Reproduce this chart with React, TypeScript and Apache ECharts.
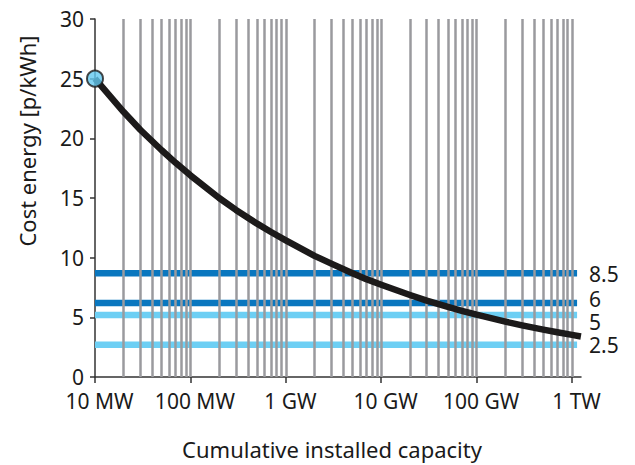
import React, { useEffect, useRef } from "react";
import * as echarts from "echarts";

// Cumulative installed capacity (W) and cost (p/kWh)
const capacity = [
  1e7, 2e7, 3e7, 5e7, 7e7,
  1e8, 2e8, 3e8, 5e8, 7e8,
  1e9, 2e9, 3e9, 5e9, 7e9,
  1e10, 2e10, 3e10, 5e10, 7e10,
  1e11, 2e11, 3e11, 5e11, 7e11,
  1e12, 1.24e12,
];
const cost = [
  25, 22.2, 20.7, 19.0, 17.95,
  16.9, 15.0, 14.0, 12.85, 12.15,
  11.45, 10.15, 9.5, 8.7, 8.2,
  7.73, 6.87, 6.4, 5.88, 5.55,
  5.22, 4.64, 4.33, 3.97, 3.75,
  3.53, 3.4,
];

// Horizontal reference levels (line position as drawn, and its label)
const levelValues = [8.7, 6.2, 5.2, 2.7];
const levelLabels = ["8.5", "6", "5", "2.5"];
const levelColors = ["#0a77bf", "#0a77bf", "#6dcff4", "#6dcff4"];
const levelLabelOffsets = [1, -4.5, 7, 0.5];
const levelStart = 1e7;
const levelEnd = 1.13e12;

// Axis ticks
const decades = [1e7, 1e8, 1e9, 1e10, 1e11, 1e12];
const tickLabels = ["10 MW", "100 MW", "1 GW", "10 GW", "100 GW", "1 TW"];
const gridMultipliers = [2, 3, 4, 5, 6, 7, 8, 9, 10];

const FONT = "'Noto Sans', sans-serif";
const TEXT = "#1a1a1a";
const FS = 21;
const FS_TITLE = 22;
const LH = 18;

export default function App() {
  const ref = useRef<HTMLDivElement>(null);
  useEffect(() => {
    document.body.style.margin = "0";
    if (!ref.current) return;
    const chart = echarts.init(ref.current, undefined, { renderer: "svg" });

    const gridX: number[] = [];
    decades.slice(0, -1).forEach((d) => gridMultipliers.forEach((m) => gridX.push(d * m)));

    const levelSeries = levelValues.map((v, i) => ({
      type: "line",
      data: [
        [levelStart, v],
        [levelEnd, v],
      ],
      symbol: "none",
      z: 3,
      lineStyle: { color: levelColors[i], width: 6.5, cap: "butt" },
      endLabel: {
        show: true,
        formatter: levelLabels[i],
        distance: 12,
        offset: [0, levelLabelOffsets[i]],
        fontFamily: FONT,
        fontSize: FS,
        lineHeight: LH,
        color: TEXT,
      },
      silent: true,
    }));

    chart.setOption({
      animation: false,
      grid: { left: 95, right: 54, top: 19, bottom: 86, containLabel: false },
      xAxis: {
        type: "log",
        logBase: 10,
        min: 1e7,
        max: 1.242e12,
        name: "Cumulative installed capacity",
        nameLocation: "middle",
        nameGap: 63,
        nameTextStyle: { fontFamily: FONT, fontSize: FS_TITLE, lineHeight: LH, color: TEXT, padding: [0, 12, 0, 0] },
        axisLine: { lineStyle: { color: "#333", width: 1.5 } },
        axisTick: { customValues: decades, length: 6, lineStyle: { color: "#333", width: 1.5 } },
        axisLabel: {
          customValues: decades,
          fontFamily: FONT,
          fontSize: FS,
          lineHeight: LH,
          color: TEXT,
          margin: 15,
          padding: [0, 0, 0, 9],
          formatter: (v: number) => {
            const idx = decades.findIndex((d) => Math.abs(Math.log10(d) - Math.log10(v)) < 1e-6);
            return idx >= 0 ? tickLabels[idx] : "";
          },
        },
        splitLine: { show: false },
        minorTick: { show: false },
        minorSplitLine: { show: false },
      },
      yAxis: {
        type: "value",
        min: 0,
        max: 30,
        interval: 5,
        axisLine: { show: true, lineStyle: { color: "#333", width: 1.5 } },
        axisTick: { show: true, length: 5, lineStyle: { color: "#333", width: 1.5 } },
        axisLabel: { fontFamily: FONT, fontSize: FS, lineHeight: LH, color: TEXT, margin: 11 },
        splitLine: { show: false },
      },
      graphic: [
        {
          type: "text",
          x: 27,
          y: 141,
          rotation: Math.PI / 2,
          style: {
            text: "Cost energy [p/kWh]",
            fontFamily: FONT,
            fontSize: FS_TITLE,
            fill: TEXT,
            align: "center",
            verticalAlign: "middle",
          },
        },
      ],
      series: [
        {
          type: "line",
          data: [],
          z: 1,
          silent: true,
          markLine: {
            silent: true,
            symbol: ["none", "none"],
            label: { show: false },
            lineStyle: { color: "#9a9a9e", width: 2.5, type: "solid" },
            data: gridX.map((x) => ({ xAxis: x })),
          },
        },
        ...levelSeries,
        {
          type: "line",
          data: capacity.map((c, i) => [c, cost[i]]),
          smooth: false,
          symbol: "none",
          z: 5,
          lineStyle: { color: "#1c1a1a", width: 6.5, cap: "butt", join: "round" },
          silent: true,
        },
        {
          type: "scatter",
          data: [[capacity[0], cost[0]]],
          symbol: "circle",
          symbolSize: 16,
          z: 6,
          itemStyle: { color: "#62c8f0", borderColor: "#1c1a1a", borderWidth: 2 },
          silent: true,
        },
      ],
    });
    return () => chart.dispose();
  }, []);
  return <div ref={ref} style={{ width: 635, height: 465 }} />;
}
